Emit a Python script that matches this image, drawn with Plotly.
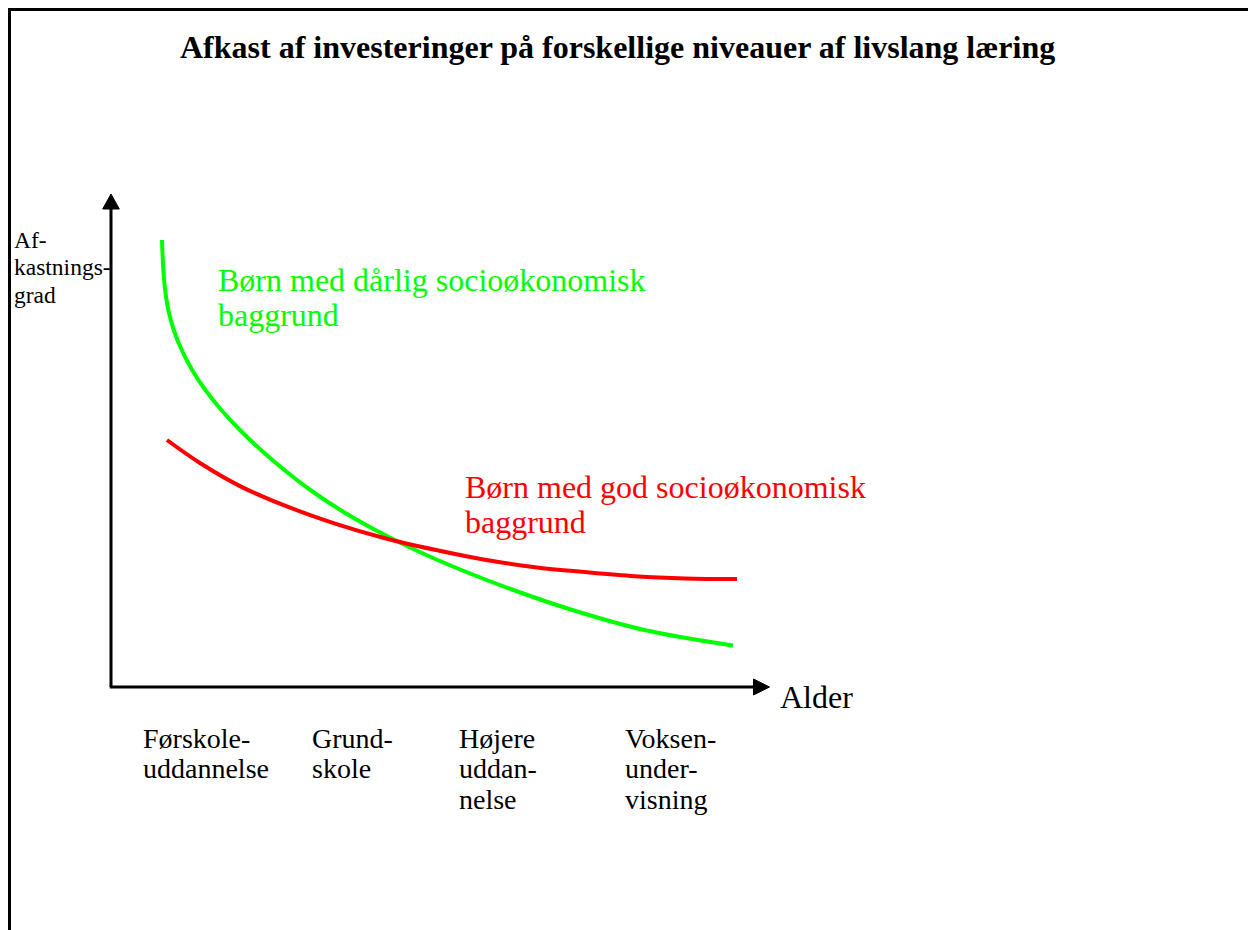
import plotly.graph_objects as go

# ---------------- data ----------------
title_text = "Afkast af investeringer på forskellige niveauer af livslang læring"

# age (stage units) and rate of return for the two groups
green_x = [0.850, 0.8725, 0.9025, 0.9558, 1.0458, 1.1792, 1.3525, 1.5725, 1.8392, 2.1492, 2.4992,
           2.8892, 3.3225, 3.8225, 4.4058, 5.0725, 5.8392, 6.7058, 7.6892, 8.8892, 10.3667]
green_y = [8.94, 8.34, 7.94, 7.54, 7.14, 6.74, 6.34, 5.94, 5.54, 5.14, 4.74,
           4.34, 3.94, 3.54, 3.14, 2.74, 2.34, 1.94, 1.54, 1.14, 0.83]
red_x = [0.933, 1.483, 2.150, 2.900, 3.733, 4.567, 5.400, 6.233, 7.067, 7.900, 8.733, 9.567, 10.433]
red_y = [4.940, 4.480, 4.018, 3.626, 3.268, 2.976, 2.744, 2.544, 2.396, 2.298, 2.216, 2.172, 2.160]

green_label = ["Børn med dårlig socioøkonomisk", "baggrund"]
red_label = ["Børn med god socioøkonomisk", "baggrund"]
category_labels = [["Førskole-", "uddannelse"], ["Grund-", "skole"],
                   ["Højere", "uddan-", "nelse"], ["Voksen-", "under-", "visning"]]
y_axis_label = ["Af-", "kastnings-", "grad"]
x_axis_label = "Alder"

# ---------------- layout geometry ----------------
W, H = 1248, 930
OX, OY = 111, 687     # pixel position of the origin
SX, SY = 60.0, 50.0   # pixels per data unit

def pxx(p):
    return p / W

def pxy(p):
    return 1 - p / H

FONT = "Liberation Serif, Times New Roman, serif"
GREEN = "#00FF00"
RED = "#FF0000"

fig = go.Figure()
fig.add_trace(go.Scatter(x=green_x, y=green_y, mode="lines",
                         line=dict(color=GREEN, width=4, shape="spline", smoothing=1.0),
                         hoverinfo="skip", showlegend=False))
fig.add_trace(go.Scatter(x=red_x, y=red_y, mode="lines",
                         line=dict(color=RED, width=4, shape="spline", smoothing=1.0),
                         hoverinfo="skip", showlegend=False))

shapes = []
# outer frame (open to right and bottom)
shapes.append(dict(type="rect", xref="paper", yref="paper",
                   x0=pxx(9.5), x1=1.1, y0=-0.1, y1=pxy(9.5),
                   line=dict(color="black", width=3)))
# axes
y_tip = (OY - 194) / SY
y_base = (OY - 209) / SY
x_tip = (769.5 - OX) / SX
x_base = (753.5 - OX) / SX
shapes.append(dict(type="line", xref="x", yref="y", x0=0, y0=0, x1=0, y1=y_base + 0.05,
                   line=dict(color="black", width=3)))
shapes.append(dict(type="line", xref="x", yref="y", x0=-0.02, y0=0, x1=x_base + 0.05, y1=0,
                   line=dict(color="black", width=3)))
hw = 8.3 / SX
shapes.append(dict(type="path", xref="x", yref="y",
                   path=f"M {-hw},{y_base} L {hw},{y_base} L 0,{y_tip} Z",
                   fillcolor="black", line=dict(color="black", width=1)))
hh = 8.0 / SY
shapes.append(dict(type="path", xref="x", yref="y",
                   path=f"M {x_base},{-hh} L {x_base},{hh} L {x_tip},0 Z",
                   fillcolor="black", line=dict(color="black", width=1)))

annotations = []

def add_text(text, x, y, size, color="black", bold=False, xanchor="left"):
    t = f"<b>{text}</b>" if bold else text
    annotations.append(dict(text=t, x=pxx(x), y=pxy(y), xref="paper", yref="paper",
                            xanchor=xanchor, yanchor="middle", showarrow=False,
                            font=dict(family=FONT, size=size, color=color)))

add_text(title_text, 617, 47, 32, bold=True, xanchor="center")

for i, line in enumerate(green_label):
    add_text(line, 216, 280 + i * 35, 32, color=GREEN)
for i, line in enumerate(red_label):
    add_text(line, 463, 487 + i * 35, 32, color=RED)

cat_x = [141, 310, 457, 623]
for cx, lines in zip(cat_x, category_labels):
    for i, line in enumerate(lines):
        add_text(line, cx, 738 + i * 30.5, 28)

add_text(x_axis_label, 778, 697, 32)
for i, line in enumerate(y_axis_label):
    add_text(line, 12, 240 + i * 27.5, 23.5)

fig.update_layout(
    width=W, height=H,
    margin=dict(l=0, r=0, t=0, b=0, pad=0),
    paper_bgcolor="white", plot_bgcolor="white",
    xaxis=dict(range=[-OX / SX, (W - OX) / SX], visible=False, fixedrange=True),
    yaxis=dict(range=[-(H - OY) / SY, OY / SY], visible=False, fixedrange=True),
    shapes=shapes, annotations=annotations, showlegend=False,
)

fig.write_html("out.html", config={"displayModeBar": False},
               post_script="document.body.style.margin='0';document.body.style.overflow='hidden';")
